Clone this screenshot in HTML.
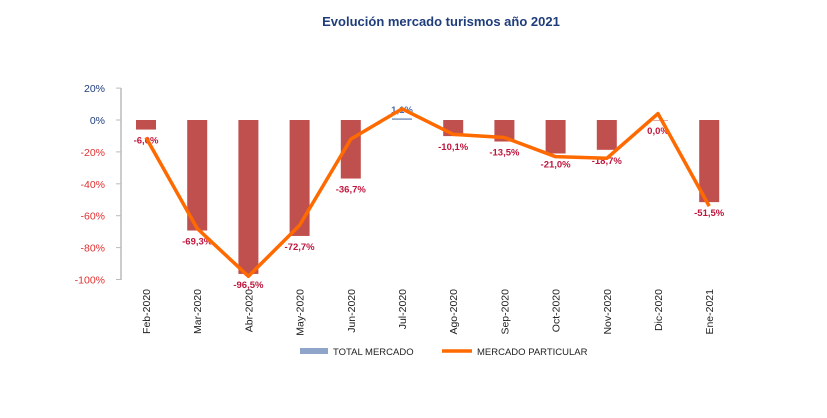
<!DOCTYPE html>
<html><head><meta charset="utf-8"><style>
body{margin:0;background:#fff;font-family:"Liberation Sans",sans-serif}
</style></head><body>
<svg id="c" width="827" height="413">
<text x="441" y="26" text-anchor="middle" font-size="13" font-weight="bold" fill="#1f3d7a">Evolución mercado turismos año 2021</text>
</svg>
<script>
const categories=["Feb-2020","Mar-2020","Abr-2020","May-2020","Jun-2020","Jul-2020","Ago-2020","Sep-2020","Oct-2020","Nov-2020","Dic-2020","Ene-2021"];
const totalMercado=[-6.0,-69.3,-96.5,-72.7,-36.7,1.1,-10.1,-13.5,-21.0,-18.7,0.0,-51.5];
const mercadoParticular=[-11,-68,-98,-66,-12,7,-9,-11,-23,-24,4,-54];
const yTicks=[20,0,-20,-40,-60,-80,-100];
const ns="http://www.w3.org/2000/svg",svg=document.getElementById('c');
const x=i=>146+i*51.2, y=v=>120-v*1.595;
function mk(t,a,p){const e=document.createElementNS(ns,t);for(const k in a)e.setAttribute(k,a[k]);(p||svg).appendChild(e);return e;}
const ax=mk('line',{x1:121,y1:88,x2:121,y2:280,stroke:'#bbb','stroke-width':1.5});


yTicks.forEach(v=>{const t=mk('text',{x:105,y:y(v)+4,'text-anchor':'end','font-size':10.5,fill:v>=0?'#1f3d7a':'#e03030'});t.textContent=v+'%';


const tk=mk('line',{x1:116,y1:y(v),x2:121,y2:y(v),stroke:'#bbb'});});
categories.forEach((c,i)=>{const v=totalMercado[i];const top=Math.min(y(v),y(0)),h=Math.abs(y(v)-y(0));
const b=mk('rect',{x:x(i)-10,y:top,width:20,height:Math.max(h,0.5),fill:v>0?'#8ea4c8':'#c0504d'});


const lbl=mk('text',{x:x(i),y:v>0?y(v)-5:y(v)+14,'text-anchor':'middle','font-size':9.5,'font-weight':'bold',fill:v>0?'#4a6aa8':'#c0143c'});
lbl.textContent=v.toFixed(1).replace('.',',')+'%';


const xl=mk('text',{x:0,y:0,'text-anchor':'end','font-size':10.5,fill:'#222',transform:`translate(${x(i)+4},289) rotate(-90)`});
xl.textContent=c;

});
const pl=mk('polyline',{points:mercadoParticular.map((v,i)=>x(i)+','+y(v)).join(' '),fill:'none',stroke:'#ff6a00','stroke-width':3.5,'stroke-linejoin':'round'});


const g=mk('g',{});


mk('rect',{x:300,y:348,width:28,height:6,fill:'#8ea4c8'},g);
const t1=mk('text',{x:333,y:355,'font-size':9.5,fill:'#222'},g);t1.textContent='TOTAL MERCADO';
mk('line',{x1:442,y1:351,x2:472,y2:351,stroke:'#ff6a00','stroke-width':3.5},g);
const t2=mk('text',{x:477,y:355,'font-size':9.5,fill:'#222'},g);t2.textContent='MERCADO PARTICULAR';
</script>
</body></html>
